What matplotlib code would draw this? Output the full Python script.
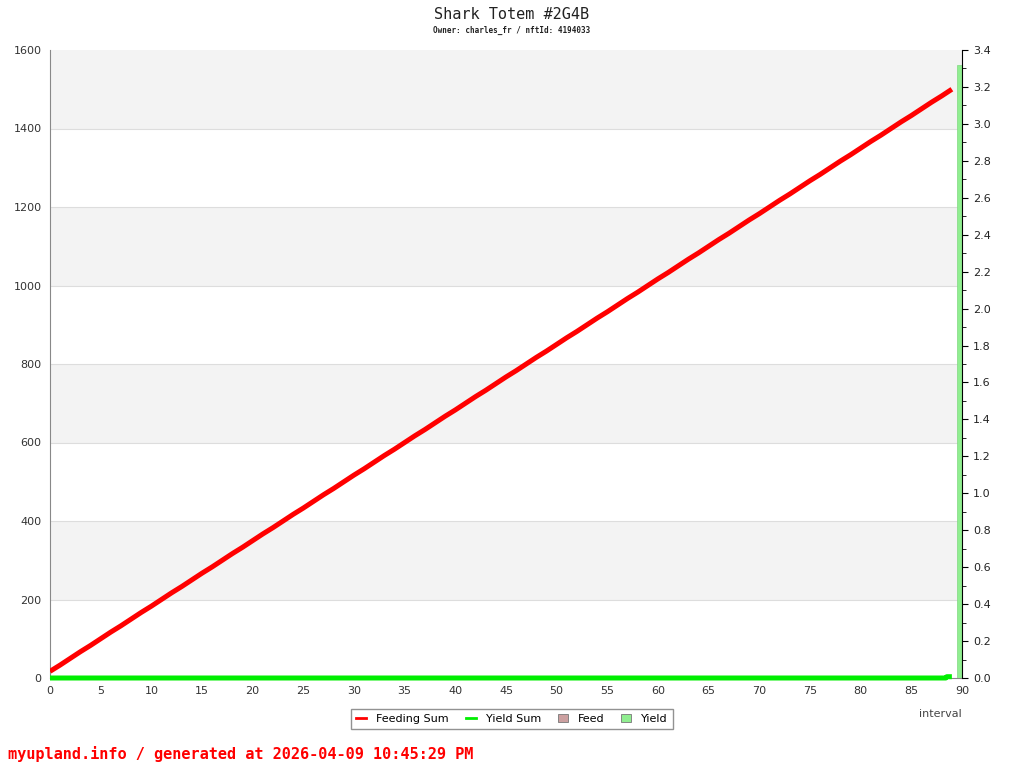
import matplotlib
matplotlib.use('Agg')
import matplotlib.pyplot as plt
from matplotlib.patches import Patch
from matplotlib.lines import Line2D

title = 'Shark Totem #2G4B'
subtitle = 'Owner: charles_fr / nftId: 4194033'
footer = 'myupland.info / generated at 2026-04-09 10:45:29 PM'

intervals = list(range(90))
feeding_sum = [17, 33, 50, 67, 83, 100, 117, 133, 150, 167,
               183, 200, 217, 233, 250, 267, 283, 300, 317, 333,
               350, 367, 383, 400, 417, 433, 450, 467, 483, 500,
               517, 533, 550, 567, 583, 600, 617, 633, 650, 667,
               683, 700, 717, 733, 750, 767, 783, 800, 817, 833,
               850, 867, 883, 900, 917, 933, 950, 967, 983, 1000,
               1017, 1033, 1050, 1067, 1083, 1100, 1117, 1133, 1150, 1167,
               1183, 1200, 1217, 1233, 1250, 1267, 1283, 1300, 1317, 1333,
               1350, 1367, 1383, 1400, 1417, 1433, 1450, 1467, 1483, 1500]
yield_sum_x = [0, 88.4, 88.5, 89]
yield_sum = [0, 0, 3.32, 3.32]
bar_x = [90]
feed = [0]
yields = [3.32]

fig = plt.figure(figsize=(10.24, 7.68), dpi=100)
ax = fig.add_axes([50/1024, 1-678/768, 912/1024, 628/768])
ax2 = ax.twinx()

# grey bands every other 200 step
for lo in range(200, 1600, 400):
    ax.axhspan(lo, lo + 200, color='#f3f3f3', zorder=0, lw=0)
for y in range(200, 1600, 200):
    ax.axhline(y, color='#dddddd', lw=0.8, zorder=0.5)

ax.plot(intervals, feeding_sum, color='#ff0000', lw=3.6, zorder=3, solid_capstyle='butt')
ax.plot(yield_sum_x, yield_sum, color='#00ee00', lw=3.6, zorder=3, solid_capstyle='butt', clip_on=False)

ax2.bar(bar_x, feed, width=-0.45, align='edge', color='#cca0a0', edgecolor='#aa8888', lw=0.5)
ax2.bar(bar_x, yields, width=-0.45, align='edge', color='#90ee90', edgecolor='#80d880', lw=0.5, zorder=2)

ax.set_xlim(0, 90)
ax.set_ylim(0, 1600)
ax2.set_ylim(0, 3.4)
ax.set_xticks(range(0, 91, 5))
ax.set_yticks(range(0, 1601, 200))
ax2.set_yticks([i / 10 for i in range(0, 35, 2)])
ax2.set_yticks([i / 10 for i in range(1, 35, 2)], minor=True)
ax2.set_yticklabels(['%.1f' % (i / 10) for i in range(0, 35, 2)])

ax.spines['top'].set_visible(False)
ax.spines['right'].set_visible(False)
ax2.spines['top'].set_visible(False)
ax2.spines['left'].set_visible(False)
ax2.spines['bottom'].set_visible(False)
ax2.spines['right'].set_color('black')
ax.spines['left'].set_color('#888888')
ax.spines['bottom'].set_color('#888888')

ax.tick_params(axis='both', length=0, labelsize=8, labelcolor='#333333', pad=6)
ax2.tick_params(axis='y', which='major', length=4, labelsize=8, labelcolor='#222222', pad=4)
ax2.tick_params(axis='y', which='minor', length=3)

fig.text(0.5, 0.981, title, ha='center', va='center', family='DejaVu Sans Mono', fontsize=11, color='#222222')
fig.text(0.5, 0.960, subtitle, ha='center', va='center', family='DejaVu Sans Mono', fontsize=5.5, color='#222222', weight='bold')
fig.text(940/1024, 1-714/768, 'interval', ha='center', va='center', fontsize=8, color='#444444')
fig.text(8/1024, 1-754/768, footer, ha='left', va='center', family='DejaVu Sans Mono', fontsize=11, color='#ff0000', weight='bold')

handles = [Line2D([], [], color='#ff0000', lw=2),
           Line2D([], [], color='#00ee00', lw=2),
           Patch(facecolor='#cca0a0', edgecolor='#777777', lw=0.6),
           Patch(facecolor='#90ee90', edgecolor='#777777', lw=0.6)]
leg = fig.legend(handles, ['Feeding Sum', 'Yield Sum', 'Feed', 'Yield'], loc='center',
                 bbox_to_anchor=(512/1024, 1-719/768), ncol=4, fontsize=8, frameon=True,
                 fancybox=False, edgecolor='#777777', handlelength=0.9, handleheight=0.8,
                 columnspacing=1.5, handletextpad=0.9, borderpad=0.45)
leg.get_frame().set_linewidth(1.0)

fig.savefig('out.png', dpi=100)
